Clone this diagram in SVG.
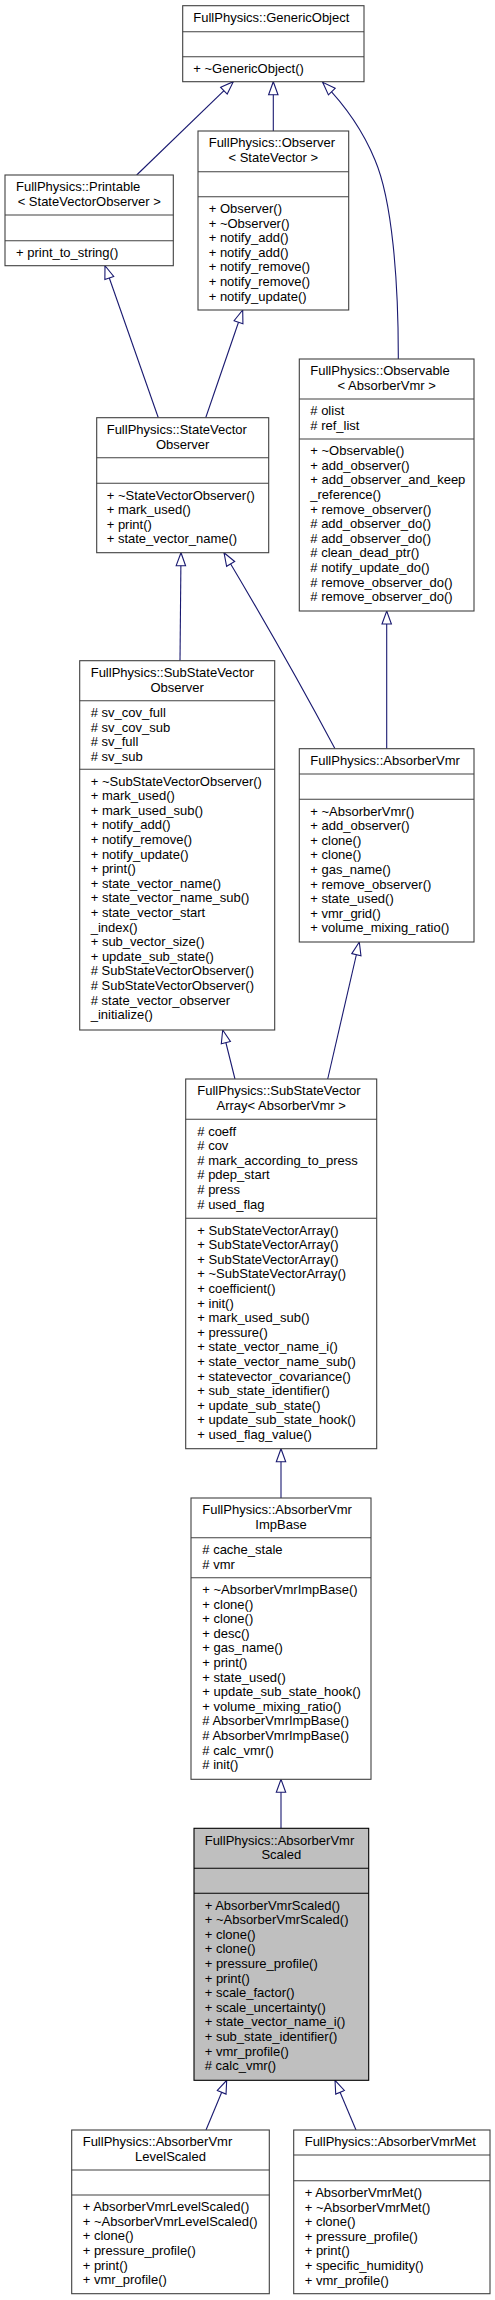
<svg xmlns="http://www.w3.org/2000/svg" width="495" height="2300" viewBox="0 0 495 2300">
<style>
text{font-family:"Liberation Sans",Arial,Helvetica,sans-serif;font-size:13px;fill:#000}
.m{text-anchor:middle}
.box{fill:#fff;stroke:#404040;stroke-width:1.1}
.focus{fill:#bfbfbf;stroke:#000;stroke-width:1.1}
.div{stroke:#404040;stroke-width:1.1}
.fdiv{stroke:#000;stroke-width:1.1}
.e{fill:none;stroke:#191970;stroke-width:1.1;marker-end:url(#tri)}
</style>
<defs>
<marker id="tri" markerUnits="userSpaceOnUse" markerWidth="16" markerHeight="12" viewBox="0 0 16 12" refX="14" refY="6" orient="auto">
<path d="M1,1.3 L14,6 L1,10.7 Z" fill="#fff" stroke="#191970" stroke-width="1.1"/>
</marker>
</defs>
<rect width="495" height="2300" fill="#fff"/>
<g id="connectors">
<path class="e" d="M136.7,175 L233.3,81.7"/>
<path class="e" d="M273.3,131 L273.3,81.7"/>
<path class="e" d="M398.3,359 C398.5,280 392,200 375,160 C362,128 340,100 322.7,82.3"/>
<path class="e" d="M158.3,417.7 L105,265.7"/>
<path class="e" d="M205.7,417.7 L242.7,310"/>
<path class="e" d="M180,660.7 L181,552.7"/>
<path class="e" d="M335,748.7 Q285,655 224,552.7"/>
<path class="e" d="M386.7,748.7 L386.7,611"/>
<path class="e" d="M235,1079 L222.7,1030"/>
<path class="e" d="M327.7,1079 L359.3,942"/>
<path class="e" d="M281,1498 L281,1448.7"/>
<path class="e" d="M281,1828.3 L281,1779.3"/>
<path class="e" d="M206,2130 L226.7,2080.3"/>
<path class="e" d="M356,2130 L335,2080.3"/>
</g>
<g id="GenericObject">
<rect class="box" x="182.7" y="5.7" width="181.3" height="76"/>
<line class="div" x1="182.7" y1="31.7" x2="364" y2="31.7"/>
<line class="div" x1="182.7" y1="56.7" x2="364" y2="56.7"/>
<text x="193.3" y="21.9">FullPhysics::GenericObject</text>
<text x="193.3" y="72.9">+ ~GenericObject()</text>
</g>
<g id="Printable">
<rect class="box" x="5" y="175" width="168.3" height="90.7"/>
<line class="div" x1="5" y1="215" x2="173.3" y2="215"/>
<line class="div" x1="5" y1="240.7" x2="173.3" y2="240.7"/>
<text x="16" y="191.2">FullPhysics::Printable</text>
<text class="m" x="89.2" y="205.8">&lt; StateVectorObserver &gt;</text>
<text x="16" y="256.9">+ print_to_string()</text>
</g>
<g id="Observer">
<rect class="box" x="198" y="131" width="150.7" height="179"/>
<line class="div" x1="198" y1="171.7" x2="348.7" y2="171.7"/>
<line class="div" x1="198" y1="196.7" x2="348.7" y2="196.7"/>
<text x="208.7" y="147.2">FullPhysics::Observer</text>
<text class="m" x="273.3" y="161.8">&lt; StateVector &gt;</text>
<text><tspan x="208.7" y="212.9">+ Observer()</tspan><tspan x="208.7" y="227.5">+ ~Observer()</tspan><tspan x="208.7" y="242.1">+ notify_add()</tspan><tspan x="208.7" y="256.7">+ notify_add()</tspan><tspan x="208.7" y="271.3">+ notify_remove()</tspan><tspan x="208.7" y="285.9">+ notify_remove()</tspan><tspan x="208.7" y="300.5">+ notify_update()</tspan></text>
</g>
<g id="Observable">
<rect class="box" x="299.3" y="359" width="174.7" height="252"/>
<line class="div" x1="299.3" y1="399" x2="474" y2="399"/>
<line class="div" x1="299.3" y1="439" x2="474" y2="439"/>
<text x="310.3" y="375.2">FullPhysics::Observable</text>
<text class="m" x="386.7" y="389.8">&lt; AbsorberVmr &gt;</text>
<text><tspan x="310.3" y="415.2"># olist</tspan><tspan x="310.3" y="429.8"># ref_list</tspan></text>
<text><tspan x="310.3" y="455.2">+ ~Observable()</tspan><tspan x="310.3" y="469.8">+ add_observer()</tspan><tspan x="310.3" y="484.4">+ add_observer_and_keep</tspan><tspan x="310.3" y="499">_reference()</tspan><tspan x="310.3" y="513.6">+ remove_observer()</tspan><tspan x="310.3" y="528.2"># add_observer_do()</tspan><tspan x="310.3" y="542.8"># add_observer_do()</tspan><tspan x="310.3" y="557.4"># clean_dead_ptr()</tspan><tspan x="310.3" y="572"># notify_update_do()</tspan><tspan x="310.3" y="586.6"># remove_observer_do()</tspan><tspan x="310.3" y="601.2"># remove_observer_do()</tspan></text>
</g>
<g id="StateVectorObserver">
<rect class="box" x="96.7" y="417.7" width="172" height="135"/>
<line class="div" x1="96.7" y1="457.7" x2="268.7" y2="457.7"/>
<line class="div" x1="96.7" y1="483.3" x2="268.7" y2="483.3"/>
<text x="106.7" y="433.9">FullPhysics::StateVector</text>
<text class="m" x="182.7" y="448.5">Observer</text>
<text><tspan x="106.7" y="499.5">+ ~StateVectorObserver()</tspan><tspan x="106.7" y="514.1">+ mark_used()</tspan><tspan x="106.7" y="528.7">+ print()</tspan><tspan x="106.7" y="543.3">+ state_vector_name()</tspan></text>
</g>
<g id="SubStateVectorObserver">
<rect class="box" x="79.7" y="660.7" width="195" height="369.3"/>
<line class="div" x1="79.7" y1="700.7" x2="274.7" y2="700.7"/>
<line class="div" x1="79.7" y1="769.3" x2="274.7" y2="769.3"/>
<text x="90.7" y="676.9">FullPhysics::SubStateVector</text>
<text class="m" x="177.2" y="691.5">Observer</text>
<text><tspan x="90.7" y="716.9"># sv_cov_full</tspan><tspan x="90.7" y="731.5"># sv_cov_sub</tspan><tspan x="90.7" y="746.1"># sv_full</tspan><tspan x="90.7" y="760.7"># sv_sub</tspan></text>
<text><tspan x="90.7" y="785.5">+ ~SubStateVectorObserver()</tspan><tspan x="90.7" y="800.1">+ mark_used()</tspan><tspan x="90.7" y="814.7">+ mark_used_sub()</tspan><tspan x="90.7" y="829.3">+ notify_add()</tspan><tspan x="90.7" y="843.9">+ notify_remove()</tspan><tspan x="90.7" y="858.5">+ notify_update()</tspan><tspan x="90.7" y="873.1">+ print()</tspan><tspan x="90.7" y="887.7">+ state_vector_name()</tspan><tspan x="90.7" y="902.3">+ state_vector_name_sub()</tspan><tspan x="90.7" y="916.9">+ state_vector_start</tspan><tspan x="90.7" y="931.5">_index()</tspan><tspan x="90.7" y="946.1">+ sub_vector_size()</tspan><tspan x="90.7" y="960.7">+ update_sub_state()</tspan><tspan x="90.7" y="975.3"># SubStateVectorObserver()</tspan><tspan x="90.7" y="989.9"># SubStateVectorObserver()</tspan><tspan x="90.7" y="1004.5"># state_vector_observer</tspan><tspan x="90.7" y="1019.1">_initialize()</tspan></text>
</g>
<g id="AbsorberVmr">
<rect class="box" x="299.3" y="748.7" width="174.7" height="193.3"/>
<line class="div" x1="299.3" y1="774" x2="474" y2="774"/>
<line class="div" x1="299.3" y1="799.3" x2="474" y2="799.3"/>
<text x="310.3" y="764.9">FullPhysics::AbsorberVmr</text>
<text><tspan x="310.3" y="815.5">+ ~AbsorberVmr()</tspan><tspan x="310.3" y="830.1">+ add_observer()</tspan><tspan x="310.3" y="844.7">+ clone()</tspan><tspan x="310.3" y="859.3">+ clone()</tspan><tspan x="310.3" y="873.9">+ gas_name()</tspan><tspan x="310.3" y="888.5">+ remove_observer()</tspan><tspan x="310.3" y="903.1">+ state_used()</tspan><tspan x="310.3" y="917.7">+ vmr_grid()</tspan><tspan x="310.3" y="932.3">+ volume_mixing_ratio()</tspan></text>
</g>
<g id="SubStateVectorArray">
<rect class="box" x="185.7" y="1079" width="191" height="369.7"/>
<line class="div" x1="185.7" y1="1119.3" x2="376.7" y2="1119.3"/>
<line class="div" x1="185.7" y1="1218.3" x2="376.7" y2="1218.3"/>
<text x="197.3" y="1095.2">FullPhysics::SubStateVector</text>
<text class="m" x="281.2" y="1109.8">Array&lt; AbsorberVmr &gt;</text>
<text><tspan x="197.3" y="1135.5"># coeff</tspan><tspan x="197.3" y="1150.1"># cov</tspan><tspan x="197.3" y="1164.7"># mark_according_to_press</tspan><tspan x="197.3" y="1179.3"># pdep_start</tspan><tspan x="197.3" y="1193.9"># press</tspan><tspan x="197.3" y="1208.5"># used_flag</tspan></text>
<text><tspan x="197.3" y="1234.5">+ SubStateVectorArray()</tspan><tspan x="197.3" y="1249.1">+ SubStateVectorArray()</tspan><tspan x="197.3" y="1263.7">+ SubStateVectorArray()</tspan><tspan x="197.3" y="1278.3">+ ~SubStateVectorArray()</tspan><tspan x="197.3" y="1292.9">+ coefficient()</tspan><tspan x="197.3" y="1307.5">+ init()</tspan><tspan x="197.3" y="1322.1">+ mark_used_sub()</tspan><tspan x="197.3" y="1336.7">+ pressure()</tspan><tspan x="197.3" y="1351.3">+ state_vector_name_i()</tspan><tspan x="197.3" y="1365.9">+ state_vector_name_sub()</tspan><tspan x="197.3" y="1380.5">+ statevector_covariance()</tspan><tspan x="197.3" y="1395.1">+ sub_state_identifier()</tspan><tspan x="197.3" y="1409.7">+ update_sub_state()</tspan><tspan x="197.3" y="1424.3">+ update_sub_state_hook()</tspan><tspan x="197.3" y="1438.9">+ used_flag_value()</tspan></text>
</g>
<g id="AbsorberVmrImpBase">
<rect class="box" x="191" y="1498" width="180" height="281.3"/>
<line class="div" x1="191" y1="1537.7" x2="371" y2="1537.7"/>
<line class="div" x1="191" y1="1577.7" x2="371" y2="1577.7"/>
<text x="202.3" y="1514.2">FullPhysics::AbsorberVmr</text>
<text class="m" x="281" y="1528.8">ImpBase</text>
<text><tspan x="202.3" y="1553.9"># cache_stale</tspan><tspan x="202.3" y="1568.5"># vmr</tspan></text>
<text><tspan x="202.3" y="1593.9">+ ~AbsorberVmrImpBase()</tspan><tspan x="202.3" y="1608.5">+ clone()</tspan><tspan x="202.3" y="1623.1">+ clone()</tspan><tspan x="202.3" y="1637.7">+ desc()</tspan><tspan x="202.3" y="1652.3">+ gas_name()</tspan><tspan x="202.3" y="1666.9">+ print()</tspan><tspan x="202.3" y="1681.5">+ state_used()</tspan><tspan x="202.3" y="1696.1">+ update_sub_state_hook()</tspan><tspan x="202.3" y="1710.7">+ volume_mixing_ratio()</tspan><tspan x="202.3" y="1725.3"># AbsorberVmrImpBase()</tspan><tspan x="202.3" y="1739.9"># AbsorberVmrImpBase()</tspan><tspan x="202.3" y="1754.5"># calc_vmr()</tspan><tspan x="202.3" y="1769.1"># init()</tspan></text>
</g>
<g id="AbsorberVmrScaled">
<rect class="focus" x="194" y="1828.3" width="174.7" height="252"/>
<line class="fdiv" x1="194" y1="1868.3" x2="368.7" y2="1868.3"/>
<line class="fdiv" x1="194" y1="1893.3" x2="368.7" y2="1893.3"/>
<text x="204.7" y="1844.5">FullPhysics::AbsorberVmr</text>
<text class="m" x="281.3" y="1859.1">Scaled</text>
<text><tspan x="204.7" y="1909.5">+ AbsorberVmrScaled()</tspan><tspan x="204.7" y="1924.1">+ ~AbsorberVmrScaled()</tspan><tspan x="204.7" y="1938.7">+ clone()</tspan><tspan x="204.7" y="1953.3">+ clone()</tspan><tspan x="204.7" y="1967.9">+ pressure_profile()</tspan><tspan x="204.7" y="1982.5">+ print()</tspan><tspan x="204.7" y="1997.1">+ scale_factor()</tspan><tspan x="204.7" y="2011.7">+ scale_uncertainty()</tspan><tspan x="204.7" y="2026.3">+ state_vector_name_i()</tspan><tspan x="204.7" y="2040.9">+ sub_state_identifier()</tspan><tspan x="204.7" y="2055.5">+ vmr_profile()</tspan><tspan x="204.7" y="2070.1"># calc_vmr()</tspan></text>
</g>
<g id="AbsorberVmrLevelScaled">
<rect class="box" x="71.7" y="2130" width="197.6" height="163.7"/>
<line class="div" x1="71.7" y1="2170" x2="269.3" y2="2170"/>
<line class="div" x1="71.7" y1="2195" x2="269.3" y2="2195"/>
<text x="82.7" y="2146.2">FullPhysics::AbsorberVmr</text>
<text class="m" x="170.5" y="2160.8">LevelScaled</text>
<text><tspan x="82.7" y="2211.2">+ AbsorberVmrLevelScaled()</tspan><tspan x="82.7" y="2225.8">+ ~AbsorberVmrLevelScaled()</tspan><tspan x="82.7" y="2240.4">+ clone()</tspan><tspan x="82.7" y="2255">+ pressure_profile()</tspan><tspan x="82.7" y="2269.6">+ print()</tspan><tspan x="82.7" y="2284.2">+ vmr_profile()</tspan></text>
</g>
<g id="AbsorberVmrMet">
<rect class="box" x="293.7" y="2130" width="196.3" height="163.7"/>
<line class="div" x1="293.7" y1="2155" x2="490" y2="2155"/>
<line class="div" x1="293.7" y1="2180.7" x2="490" y2="2180.7"/>
<text x="304.7" y="2146.2">FullPhysics::AbsorberVmrMet</text>
<text><tspan x="304.7" y="2196.9">+ AbsorberVmrMet()</tspan><tspan x="304.7" y="2211.5">+ ~AbsorberVmrMet()</tspan><tspan x="304.7" y="2226.1">+ clone()</tspan><tspan x="304.7" y="2240.7">+ pressure_profile()</tspan><tspan x="304.7" y="2255.3">+ print()</tspan><tspan x="304.7" y="2269.9">+ specific_humidity()</tspan><tspan x="304.7" y="2284.5">+ vmr_profile()</tspan></text>
</g>
</svg>
